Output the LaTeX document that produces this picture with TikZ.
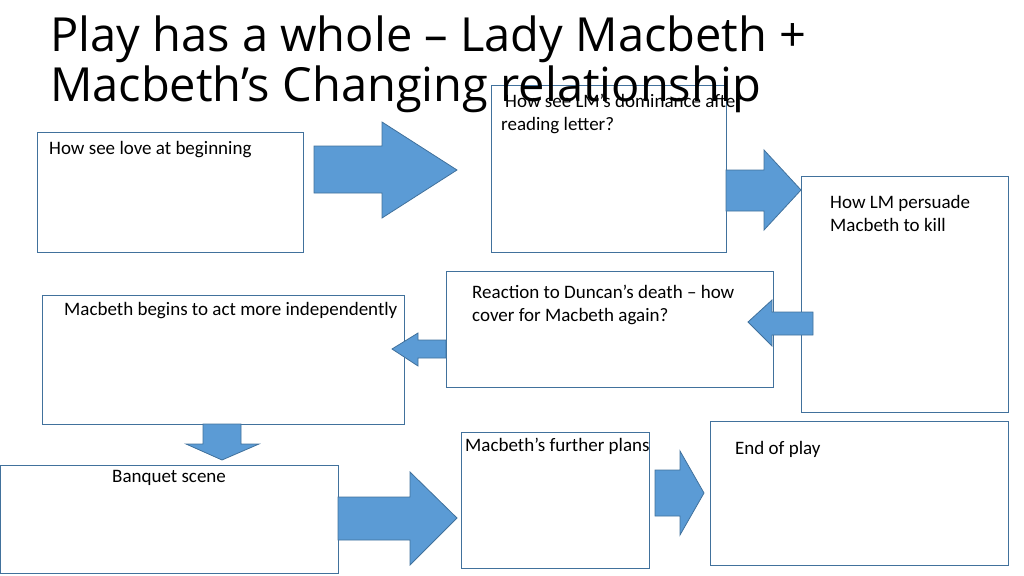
\documentclass[tikz,border=0pt]{standalone}
\usepackage{fontspec}
\setmainfont{Carlito}
\newfontfamily\titlefont{Open Sans}
\begin{document}
\begin{tikzpicture}[x=1pt,y=-1pt]
\definecolor{af}{HTML}{5B9BD5}\definecolor{ab}{HTML}{41719C}\definecolor{bx}{HTML}{41719C}
\tikzset{arr/.style={fill=af, draw=ab, line width=0.8pt}, box/.style={draw=bx, line width=0.8pt},
  txt/.style={anchor=base west, inner sep=0, font=\fontsize{19}{22}\selectfont},
  ttl/.style={anchor=base west, inner sep=0, font=\titlefont\fontsize{47}{50}\selectfont}}
\useasboundingbox (0,0) rectangle (1024,575);
% boxes
\draw[box] (37,132) rectangle (303,252);
\draw[box] (491,85) rectangle (726,252);
\draw[box] (801,176) rectangle (1008,412);
\draw[box] (446,271) rectangle (773,387);
\draw[box] (42,295) rectangle (404,424);
\draw[box] (0,465) rectangle (338,573);
\draw[box] (461,432) rectangle (649,568);
\draw[box] (710,421) rectangle (1008,565);
% arrows
\draw[arr] (314,146)--(382,146)--(382,122)--(457,170)--(382,218)--(382,193)--(314,193)--cycle;
\draw[arr] (726,170)--(764,170)--(764,150)--(801,190)--(764,230)--(764,211)--(726,211)--cycle;
\draw[arr] (813,312)--(772,312)--(772,300)--(748,322)--(772,346)--(772,335)--(813,335)--cycle;
\draw[arr] (446,340)--(418,340)--(418,333)--(392,349)--(418,366)--(418,358)--(446,358)--cycle;
\draw[arr] (203,424)--(241,424)--(241,444)--(259,444)--(222,460)--(186,444)--(203,444)--cycle;
\draw[arr] (338,497)--(410,497)--(410,472)--(457,518)--(410,565)--(410,540)--(338,540)--cycle;
\draw[arr] (655,470)--(680,470)--(680,451)--(704,493)--(680,535)--(680,516)--(655,516)--cycle;
% title
\node[ttl] (t1) at (50,52) {Play has a whole – Lady Macbeth +};
\node[ttl] (t2) at (50,102) {Macbeth’s Changing relationship};
% texts
\node[txt] (a) at (49,154) {How see love at beginning};
\node[txt] (b1) at (505,108) {How see LM’s dominance after};
\node[txt] (b2) at (501,130) {reading letter?};
\node[txt] (c1) at (830,208) {How LM persuade};
\node[txt] (c2) at (830,231) {Macbeth to kill};
\node[txt] (d1) at (472,298) {Reaction to Duncan’s death – how};
\node[txt] (d2) at (472,321) {cover for Macbeth again?};
\node[txt] (e) at (64,315) {Macbeth begins to act more independently};
\node[txt] (f) at (112,482) {Banquet scene};
\node[txt] (g) at (465,451) {Macbeth’s further plans};
\node[txt] (h) at (735,454) {End of play};
\end{tikzpicture}
\end{document}
